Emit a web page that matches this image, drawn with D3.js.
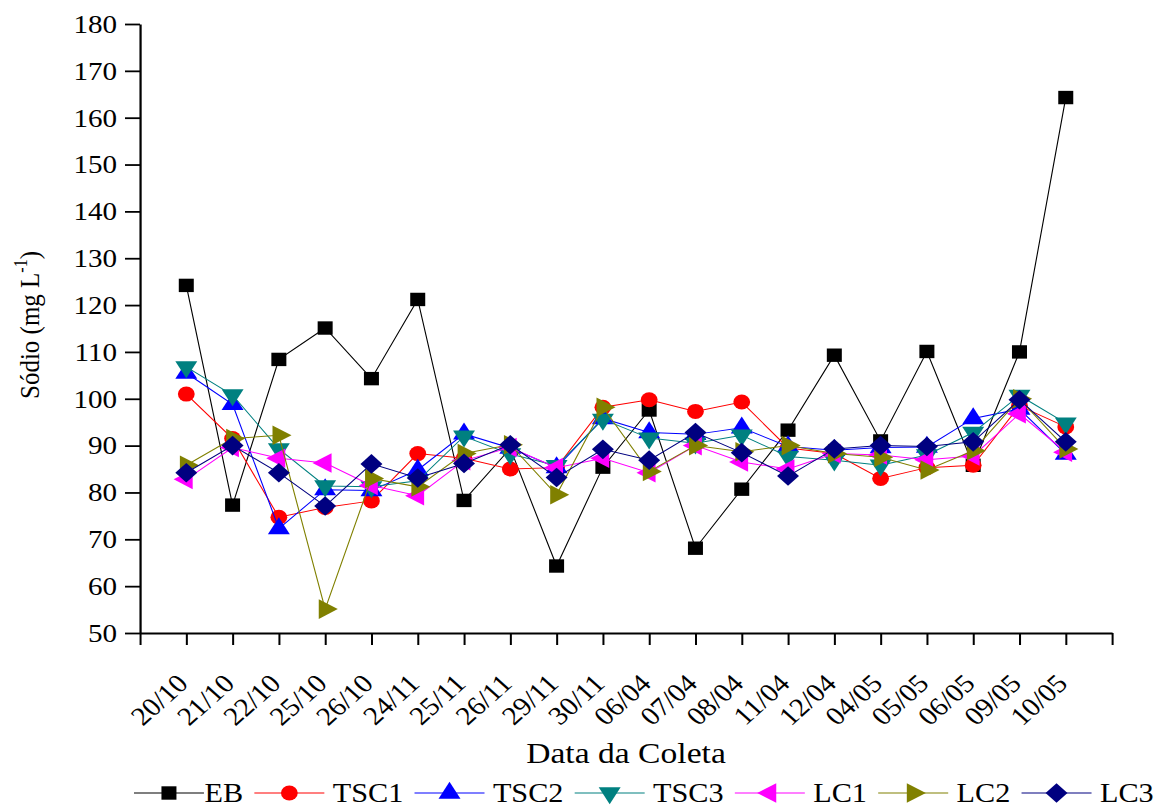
<!DOCTYPE html>
<html>
<head>
<meta charset="utf-8">
<script src="https://cdn.jsdelivr.net/npm/d3@7"></script>
<style>
  html, body { margin: 0; padding: 0; background: #fff; }
  svg { display: block; }
  text { font-family: "Liberation Serif", "Times New Roman", serif; fill: #000; }
</style>
</head>
<body>
<div id="chart"></div>
<script>
// Sampling dates
const categories = ["20/10","21/10","22/10","25/10","26/10","24/11","25/11","26/11","29/11","30/11",
                    "06/04","07/04","08/04","11/04","12/04","04/05","05/05","06/05","09/05","10/05"];

// Sodium concentration (mg L-1) per sampling point
const EB   = [124.2, 77.3, 108.4, 115.1, 104.3, 121.2, 78.3, 89.4, 64.3, 85.4, 97.6, 68.1, 80.7, 93.3, 109.3, 91.0, 110.1, 85.8, 110.0, 164.3];
const TSC1 = [101.0, 91.5, 74.7, 76.8, 78.2, 88.3, 87.3, 85.0, 85.3, 98.2, 99.8, 97.3, 99.3, 89.5, 88.3, 83.0, 85.3, 85.8, 98.5, 94.0];
const TSC2 = [105.5, 98.8, 72.3, 80.6, 80.4, 84.8, 92.5, 89.5, 85.3, 95.8, 92.8, 92.4, 93.8, 89.8, 89.0, 89.6, 89.7, 95.8, 97.8, 88.2];
const TSC3 = [106.8, 100.8, 89.3, 81.4, 81.2, 82.5, 92.0, 88.2, 85.7, 95.6, 91.6, 90.5, 92.2, 87.7, 86.9, 85.8, 88.0, 92.8, 100.7, 94.8];
const LC1  = [82.8, 89.6, 87.3, 86.3, 81.5, 79.3, 86.8, 89.6, 85.3, 87.3, 84.2, 90.0, 86.5, 85.0, 88.3, 88.0, 87.0, 87.8, 96.8, 88.6];
const LC2  = [85.8, 91.5, 92.2, 55.1, 83.0, 81.2, 88.3, 90.2, 79.5, 98.2, 84.5, 90.0, 88.7, 90.0, 88.3, 87.5, 84.8, 88.9, 100.0, 89.3];
const LC3  = [84.2, 90.0, 84.2, 77.1, 86.1, 83.1, 86.2, 90.2, 83.2, 89.2, 86.9, 92.8, 88.5, 83.5, 89.3, 90.0, 89.8, 90.8, 99.8, 90.8];

const seriesNames  = ["EB", "TSC1", "TSC2", "TSC3", "LC1", "LC2", "LC3"];
const seriesValues = [EB, TSC1, TSC2, TSC3, LC1, LC2, LC3];
const seriesColors = ["#000000", "#ff0000", "#0000ff", "#008080", "#ff00ff", "#808000", "#000080"];
const seriesShapes = ["square", "circle", "triUp", "triDown", "triLeft", "triRight", "diamond"];

const yMajorTicks = d3.range(50, 181, 10);
const yMinorTicks = d3.range(55, 180, 10);

// The drawing is laid out in a narrower coordinate space and stretched to the window width.
const OUT_W = 1162, OUT_H = 809, SX = 1.12;
const W = OUT_W / SX;

const svg = d3.select("#chart").append("svg")
  .attr("width", OUT_W).attr("height", OUT_H)
  .attr("viewBox", `0 0 ${W} ${OUT_H}`)
  .attr("preserveAspectRatio", "none");

const plot = { left: 125, right: 992.9, top: 24, bottom: 633 };

const x = d3.scaleLinear().domain([0, categories.length + 1]).range([plot.left, plot.right]);
const y = d3.scaleLinear().domain([50, 180]).range([plot.bottom, plot.top]);

// Marker outlines
function markerPath(shape) {
  const p = d3.path();
  const s = 6.7, r = 7.5, a = 9.8, h1 = 11.3, h2 = 5.7, dm = 9.8;
  switch (shape) {
    case "square": p.rect(-s, -s, 2 * s, 2 * s); break;
    case "circle": p.moveTo(r, 0); p.arc(0, 0, r, 0, 2 * Math.PI); break;
    case "triUp": p.moveTo(0, -h1); p.lineTo(a, h2); p.lineTo(-a, h2); p.closePath(); break;
    case "triDown": p.moveTo(0, h1); p.lineTo(a, -h2); p.lineTo(-a, -h2); p.closePath(); break;
    case "triLeft": p.moveTo(-h1, 0); p.lineTo(h2, -a); p.lineTo(h2, a); p.closePath(); break;
    case "triRight": p.moveTo(h1, 0); p.lineTo(-h2, -a); p.lineTo(-h2, a); p.closePath(); break;
    case "diamond": p.moveTo(0, -dm); p.lineTo(dm, 0); p.lineTo(0, dm); p.lineTo(-dm, 0); p.closePath(); break;
  }
  return p.toString();
}

// Y axis: major and minor ticks
const yAxisG = svg.append("g").attr("transform", `translate(${plot.left},0)`);
yAxisG.call(d3.axisLeft(y).tickValues(yMinorTicks).tickSize(7).tickSizeOuter(0).tickFormat(""));
yAxisG.call(d3.axisLeft(y).tickValues(yMajorTicks).tickSize(13.4).tickSizeOuter(0).tickPadding(7));
yAxisG.selectAll("path.domain").attr("stroke", "#000").attr("stroke-width", 2);
yAxisG.selectAll(".tick line").attr("stroke", "#000").attr("stroke-width", 1.8);
yAxisG.selectAll(".tick text")
  .style("font-family", '"Liberation Serif", "Times New Roman", serif')
  .style("font-size", "26px").attr("fill", "#000");

// X axis: ticks at every slot, labels rotated
const xAxisG = svg.append("g").attr("transform", `translate(0,${plot.bottom})`);
xAxisG.call(d3.axisBottom(x).tickValues(d3.range(0, categories.length + 2)).tickSize(12).tickSizeOuter(0).tickFormat(""));
xAxisG.selectAll("path.domain").attr("stroke", "#000").attr("stroke-width", 2);
xAxisG.selectAll(".tick line").attr("stroke", "#000").attr("stroke-width", 1.8);

svg.append("g").selectAll("text").data(categories).join("text")
  .attr("transform", (d, i) => `translate(${x(i + 1) + 3},${plot.bottom + 52}) rotate(-45)`)
  .attr("text-anchor", "end")
  .style("font-size", "26px")
  .text(d => d);

// Axis titles
svg.append("text")
  .attr("x", (plot.left + plot.right) / 2).attr("y", 763)
  .attr("text-anchor", "middle")
  .style("font-size", "30px")
  .text("Data da Coleta");

const yTitle = svg.append("text")
  .attr("transform", `translate(35,325) rotate(-90)`)
  .attr("text-anchor", "middle")
  .style("font-size", "25px");
yTitle.append("tspan").text("Sódio (mg L");
yTitle.append("tspan").attr("dy", -11).style("font-size", "16px").text("-1");
yTitle.append("tspan").attr("dy", 11).text(")");

// Series: connecting lines then markers
const line = d3.line().x((d, i) => x(i + 1)).y(d => y(d));
seriesValues.forEach((vals, k) => {
  const g = svg.append("g");
  g.append("path").datum(vals)
    .attr("d", line)
    .attr("fill", "none")
    .attr("stroke", seriesColors[k])
    .attr("stroke-width", 1);
  g.selectAll("path.mk").data(vals).join("path")
    .attr("class", "mk")
    .attr("transform", (d, i) => `translate(${x(i + 1)},${y(d)})`)
    .attr("d", markerPath(seriesShapes[k]))
    .attr("fill", seriesColors[k]);
});

// Legend row
const legend = svg.append("g");
let lx = 119.6;
const legY = 793, lineLen = 62.5;
seriesNames.forEach((name, k) => {
  legend.append("line")
    .attr("x1", lx).attr("x2", lx + lineLen).attr("y1", legY).attr("y2", legY)
    .attr("stroke", seriesColors[k]).attr("stroke-width", 1);
  legend.append("path")
    .attr("transform", `translate(${lx + lineLen / 2},${legY})`)
    .attr("d", markerPath(seriesShapes[k]))
    .attr("fill", seriesColors[k]);
  const gap = k === 0 ? 0.5 : 7.5;
  const t = legend.append("text")
    .attr("x", lx + lineLen + gap).attr("y", legY + 9)
    .style("font-size", "27px")
    .text(name);
  lx = lx + lineLen + gap + t.node().getComputedTextLength() + 10;
});
</script>
</body>
</html>
